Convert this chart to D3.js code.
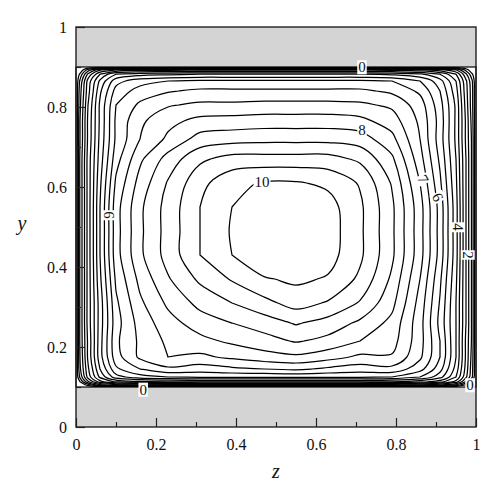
<!DOCTYPE html>
<html>
<head>
<meta charset="utf-8">
<script src="https://cdn.jsdelivr.net/npm/d3@7"></script>
<style>
  body { margin: 0; background: #fff; }
  text { font-family: "Liberation Serif", "DejaVu Serif", serif; fill: #111; }
</style>
</head>
<body>
<svg id="chart" width="498" height="500"></svg>
<script>
// grid nodes (non uniform, packed near the walls)
var zNodes = [0, 0.01, 0.03, 0.06, 0.10, 0.16, 0.23, 0.31, 0.39, 0.47, 0.55, 0.63, 0.71, 0.79, 0.86, 0.91, 0.95, 0.975, 0.99, 1];
var yNodes = [0.1, 0.105, 0.113, 0.125, 0.145, 0.175, 0.215, 0.26, 0.31, 0.37, 0.43, 0.49, 0.55, 0.61, 0.67, 0.72, 0.765, 0.805, 0.84, 0.865, 0.882, 0.893, 0.9];

// velocity, one row per yNode (bottom wall first)
var velocity = [
  [0, 0,   0,   0,    0,   0,    0,    0,    0,    0,     0,     0,     0,    0,    0,    0,    0,   0,   0,   0],
  [0, 0,   0.7, 1.8,  2.3, 2.5,  2.6,  2.6,  2.6,  2.6,   2.6,   2.6,   2.6,  2.6,  2.4,  2.0,  1.4, 0.4, 0,   0],
  [0, 0.5, 1.9, 3.3,  4.1, 4.4,  4.5,  4.6,  4.6,  4.6,   4.6,   4.6,   4.6,  4.5,  4.2,  3.7,  2.8, 1.4, 0.4, 0],
  [0, 1.1, 2.7, 4.1,  5.3, 5.8,  6.0,  6.1,  6.1,  6.1,   6.1,   6.1,   6.1,  6.0,  5.5,  4.7,  3.5, 2.1, 1.1, 0],
  [0, 1.4, 2.9, 4.5,  5.9, 6.5,  6.9,  6.75, 6.9,  7.0,   7.1,   6.9,   6.75, 6.85, 6.2,  5.2,  3.8, 2.3, 1.2, 0],
  [0, 1.5, 3.1, 4.8,  6.3, 7.1,  7.5,  7.4,  7.6,  7.8,   7.9,   7.7,   7.4,  7.45, 6.6,  5.5,  4.0, 2.4, 1.3, 0],
  [0, 1.6, 3.1, 4.8,  6.4, 7.1,  7.6,  7.85, 8.1,  8.3,   8.55,  8.35,  8.0,  7.7,  6.7,  5.5,  4.0, 2.4, 1.4, 0],
  [0, 1.6, 3.2, 4.75, 6.3, 7.2,  7.8,  8.25, 8.5,  8.75,  9.05,  8.8,   8.4,  7.85, 6.7,  5.35, 4.0, 2.5, 1.4, 0],
  [0, 1.6, 3.2, 4.75, 6.4, 7.4,  8.1,  8.65, 9.0,  9.35,  9.7,   9.45,  8.95, 8.15, 6.8,  5.45, 4.0, 2.5, 1.4, 0],
  [0, 1.6, 3.2, 4.9,  6.6, 7.65, 8.45, 9.1,  9.55, 9.95,  10.1,  9.95,  9.4,  8.4,  7.0,  5.6,  4.1, 2.5, 1.4, 0],
  [0, 1.6, 3.2, 5.0,  6.8, 7.9,  8.7,  9.5,  10.0, 10.45, 10.5,  10.2,  9.6,  8.6,  7.2,  5.8,  4.2, 2.5, 1.4, 0],
  [0, 1.6, 3.2, 5.0,  6.8, 7.9,  8.7,  9.5,  10.05,10.5,  10.6,  10.25, 9.6,  8.6,  7.2,  5.8,  4.2, 2.5, 1.4, 0],
  [0, 1.6, 3.2, 5.0,  6.8, 7.9,  8.7,  9.5,  10.0, 10.5,  10.5,  10.2,  9.6,  8.6,  7.2,  5.8,  4.2, 2.5, 1.4, 0],
  [0, 1.6, 3.2, 4.9,  6.6, 7.7,  8.55, 9.35, 9.85, 10.05, 10.05, 9.9,   9.45, 8.45, 7.0,  5.6,  4.1, 2.5, 1.4, 0],
  [0, 1.6, 3.2, 4.75, 6.3, 7.4,  8.2,  8.9,  9.2,  9.2,   9.2,   9.2,   8.9,  8.1,  6.7,  5.4,  4.0, 2.5, 1.4, 0],
  [0, 1.5, 3.1, 4.65, 6.1, 7.0,  7.6,  8.2,  8.3,  8.35,  8.35,  8.35,  8.25, 7.65, 6.5,  5.25, 3.9, 2.4, 1.4, 0],
  [0, 1.5, 3.1, 4.6,  6.1, 6.9,  7.35, 7.65, 7.7,  7.75,  7.75,  7.75,  7.65, 7.25, 6.4,  5.3,  3.9, 2.4, 1.3, 0],
  [0, 1.4, 3.0, 4.6,  6.0, 6.6,  6.95, 7.1,  7.1,  7.15,  7.15,  7.15,  7.1,  6.9,  6.25, 5.2,  3.9, 2.3, 1.2, 0],
  [0, 1.3, 2.8, 4.4,  5.7, 6.2,  6.45, 6.6,  6.6,  6.6,   6.6,   6.6,   6.6,  6.4,  5.9,  5.0,  3.7, 2.2, 1.2, 0],
  [0, 1.1, 2.7, 4.1,  5.3, 5.8,  6.0,  6.1,  6.1,  6.1,   6.1,   6.1,   6.1,  6.0,  5.5,  4.7,  3.5, 2.1, 1.1, 0],
  [0, 0.6, 2.1, 3.5,  4.5, 4.8,  4.9,  5.0,  5.0,  5.0,   5.0,   5.0,   5.0,  4.9,  4.6,  4.0,  3.0, 1.6, 0.6, 0],
  [0, 0,   1.2, 2.4,  3.0, 3.3,  3.3,  3.4,  3.4,  3.4,   3.4,   3.4,   3.4,  3.3,  3.1,  2.7,  2.0, 0.8, 0,   0],
  [0, 0,   0,   0,    0,   0,    0,    0,    0,    0,     0,     0,     0,    0,    0,    0,    0,   0,   0,   0]
];

var levels = [0.5, 1, 1.5, 2, 2.5, 3, 3.5, 4, 4.5, 5, 5.5, 6, 6.5, 7, 7.5, 8, 8.5, 9, 9.5, 10];
var majorTicks = [0, 0.2, 0.4, 0.6, 0.8, 1];
var minorTicks = [0.1, 0.3, 0.5, 0.7, 0.9];
var wallBands = [[0, 0.1], [0.9, 1]];

// contour labels: text, z, y, angle
var contourLabels = [
  ["0", 0.715, 0.9, 0], ["0", 0.168, 0.094, 0], ["0", 0.985, 0.105, 0],
  ["10", 0.465, 0.612, 0], ["8", 0.715, 0.742, 0],
  ["7", 0.868, 0.62, 62], ["6", 0.905, 0.575, 62],
  ["4", 0.955, 0.5, 90], ["2", 0.98, 0.43, 90], ["6", 0.082, 0.53, 90]
];

var serif = "'Liberation Serif','DejaVu Serif',serif";
var svg = d3.select("#chart");
var x = d3.scaleLinear().domain([0, 1]).range([76, 476]);
var y = d3.scaleLinear().domain([0, 1]).range([427, 27]);

svg.append("defs").append("clipPath").attr("id", "duct")
  .append("rect")
  .attr("x", x(0)).attr("y", y(0.9))
  .attr("width", x(1) - x(0)).attr("height", y(0.1) - y(0.9));

svg.selectAll("rect.wall").data(wallBands).enter().append("rect")
  .attr("class", "wall")
  .attr("x", x(0)).attr("y", function(d) { return y(d[1]); })
  .attr("width", x(1) - x(0))
  .attr("height", function(d) { return y(d[0]) - y(d[1]); })
  .attr("fill", "#d4d4d4");

// contour lines
var nz = zNodes.length, ny = yNodes.length;
var zAt = d3.scaleLinear().domain(d3.range(nz)).range(zNodes).clamp(true);
var yAt = d3.scaleLinear().domain(d3.range(ny)).range(yNodes).clamp(true);

var contours = d3.contours().size([nz, ny]).thresholds(levels)(velocity.flat());

var line = d3.line()
  .x(function(p) { return x(zAt(p[0] - 0.5)); })
  .y(function(p) { return y(yAt(p[1] - 0.5)); })
  .curve(d3.curveCatmullRomClosed.alpha(0.5));

var rings = [];
contours.forEach(function(c) {
  c.coordinates.forEach(function(poly) {
    poly.forEach(function(ring) { rings.push(ring.slice(0, -1)); });
  });
});

svg.append("g").attr("clip-path", "url(#duct)")
  .selectAll("path").data(rings).enter().append("path")
  .attr("d", line)
  .attr("fill", "none")
  .attr("stroke", "#000")
  .attr("stroke-width", 1.25);

// zero contour along the walls
svg.append("rect")
  .attr("x", x(0)).attr("y", y(0.9))
  .attr("width", x(1) - x(0)).attr("height", y(0.1) - y(0.9))
  .attr("fill", "none").attr("stroke", "#000").attr("stroke-width", 1.2);

// labels on the lines
var lab = svg.append("g").selectAll("g").data(contourLabels).enter().append("g")
  .attr("transform", function(d) { return "translate(" + x(d[1]) + "," + y(d[2]) + ") rotate(" + d[3] + ")"; });
lab.append("text")
  .attr("text-anchor", "middle")
  .attr("dy", "0.35em")
  .style("font-family", serif)
  .style("font-size", "15px")
  .text(function(d) { return d[0]; });
lab.each(function() {
  var g = d3.select(this), b = g.select("text").node().getBBox();
  g.insert("rect", "text")
    .attr("x", b.x - 1).attr("y", b.y + 1)
    .attr("width", b.width + 2).attr("height", b.height - 2)
    .attr("fill", "#fff");
});

// axes
var fmt = d3.format("~g");
svg.append("g").attr("transform", "translate(0," + y(0) + ")")
  .call(d3.axisBottom(x).tickValues(majorTicks).tickFormat(fmt).tickSizeInner(-9).tickSizeOuter(0).tickPadding(12));
svg.append("g").attr("transform", "translate(0," + y(0) + ")")
  .call(d3.axisBottom(x).tickValues(minorTicks).tickFormat("").tickSizeInner(-5).tickSizeOuter(0));
svg.append("g").attr("transform", "translate(" + x(0) + ",0)")
  .call(d3.axisLeft(y).tickValues(majorTicks).tickFormat(fmt).tickSizeInner(-9).tickSizeOuter(0).tickPadding(9));
svg.append("g").attr("transform", "translate(" + x(0) + ",0)")
  .call(d3.axisLeft(y).tickValues(minorTicks).tickFormat("").tickSizeInner(-5).tickSizeOuter(0));

svg.selectAll(".domain").remove();
svg.selectAll(".tick line").attr("stroke", "#222").attr("stroke-width", 1.2);
svg.selectAll(".tick text")
  .attr("font-family", serif)
  .style("font-family", serif)
  .style("font-size", "16px").attr("fill", "#111");

// frame
svg.append("rect")
  .attr("x", x(0)).attr("y", y(1))
  .attr("width", x(1) - x(0)).attr("height", y(0) - y(1))
  .attr("fill", "none").attr("stroke", "#222").attr("stroke-width", 1.4);

svg.append("text")
  .attr("x", x(0.5)).attr("y", 478)
  .attr("text-anchor", "middle")
  .style("font-family", serif)
  .style("font-size", "20px").style("font-style", "italic")
  .text("z");
svg.append("text")
  .attr("x", 22).attr("y", y(0.5) + 3)
  .attr("text-anchor", "middle")
  .style("font-family", serif)
  .style("font-size", "20px").style("font-style", "italic")
  .text("y");
</script>
</body>
</html>
